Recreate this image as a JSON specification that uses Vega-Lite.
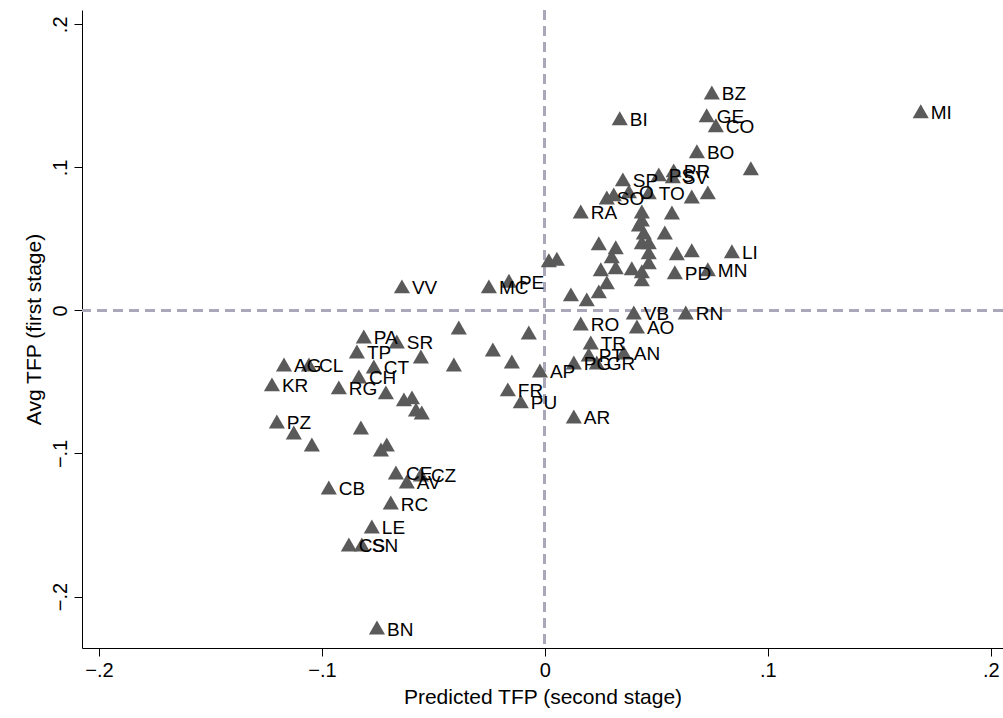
{
  "$schema": "https://vega.github.io/schema/vega-lite/v6.json",
  "width": 921,
  "height": 638,
  "autosize": "none",
  "padding": {"left": 82, "top": 10, "right": 0, "bottom": 70},
  "background": "white",
  "config": {"view": {"stroke": null}, "font": "Liberation Sans"},
  "data": {
    "values": [
      {"x": 0.1686, "y": 0.1392, "l": "MI"},
      {"x": 0.0749, "y": 0.1524, "l": "BZ"},
      {"x": 0.0726, "y": 0.1364, "l": "GE"},
      {"x": 0.0767, "y": 0.1294, "l": "CO"},
      {"x": 0.0336, "y": 0.1343, "l": "BI"},
      {"x": 0.0682, "y": 0.1112, "l": "BO"},
      {"x": 0.0924, "y": 0.0993, "l": ""},
      {"x": 0.0511, "y": 0.0951, "l": "PS"},
      {"x": 0.0578, "y": 0.0979, "l": "PR"},
      {"x": 0.0574, "y": 0.0937, "l": "SV"},
      {"x": 0.035, "y": 0.0916, "l": "SP"},
      {"x": 0.0278, "y": 0.079, "l": "SO"},
      {"x": 0.0309, "y": 0.0811, "l": ""},
      {"x": 0.0377, "y": 0.0832, "l": "O"},
      {"x": 0.0466, "y": 0.0825, "l": "TO"},
      {"x": 0.0659, "y": 0.0797, "l": ""},
      {"x": 0.0731, "y": 0.0825, "l": ""},
      {"x": 0.0161, "y": 0.0692, "l": "RA"},
      {"x": 0.0435, "y": 0.0692, "l": ""},
      {"x": 0.0435, "y": 0.0636, "l": ""},
      {"x": 0.0422, "y": 0.0601, "l": ""},
      {"x": 0.0444, "y": 0.0545, "l": ""},
      {"x": 0.0435, "y": 0.0476, "l": ""},
      {"x": 0.0466, "y": 0.0476, "l": ""},
      {"x": 0.0466, "y": 0.0406, "l": ""},
      {"x": 0.0466, "y": 0.0336, "l": ""},
      {"x": 0.0435, "y": 0.0273, "l": ""},
      {"x": 0.0435, "y": 0.0217, "l": ""},
      {"x": 0.057, "y": 0.0685, "l": ""},
      {"x": 0.0538, "y": 0.0545, "l": ""},
      {"x": 0.0242, "y": 0.0469, "l": ""},
      {"x": 0.0318, "y": 0.0441, "l": ""},
      {"x": 0.03, "y": 0.0378, "l": ""},
      {"x": 0.0318, "y": 0.0301, "l": ""},
      {"x": 0.0251, "y": 0.0287, "l": ""},
      {"x": 0.039, "y": 0.0294, "l": ""},
      {"x": 0.0592, "y": 0.0399, "l": ""},
      {"x": 0.0659, "y": 0.042, "l": ""},
      {"x": 0.0839, "y": 0.0413, "l": "LI"},
      {"x": 0.0583, "y": 0.0266, "l": "PD"},
      {"x": 0.0731, "y": 0.0287, "l": "MN"},
      {"x": 0.0278, "y": 0.0196, "l": ""},
      {"x": 0.0242, "y": 0.0133, "l": ""},
      {"x": 0.0117, "y": 0.0112, "l": ""},
      {"x": 0.0188, "y": 0.0077, "l": ""},
      {"x": 0.0018, "y": 0.0351, "l": ""},
      {"x": 0.0054, "y": 0.0361, "l": ""},
      {"x": -0.0161, "y": 0.0207, "l": "PE"},
      {"x": -0.0251, "y": 0.0168, "l": "MC"},
      {"x": 0.0399, "y": -0.0014, "l": "VB"},
      {"x": 0.0632, "y": -0.0014, "l": "RN"},
      {"x": 0.0161, "y": -0.0091, "l": "RO"},
      {"x": 0.0413, "y": -0.0112, "l": "AO"},
      {"x": -0.0072, "y": -0.0154, "l": ""},
      {"x": -0.0233, "y": -0.0273, "l": ""},
      {"x": -0.0148, "y": -0.0357, "l": ""},
      {"x": 0.0206, "y": -0.0224, "l": "TR"},
      {"x": 0.0197, "y": -0.0308, "l": "PT"},
      {"x": 0.0354, "y": -0.0294, "l": "AN"},
      {"x": 0.013, "y": -0.0364, "l": "PG"},
      {"x": 0.0233, "y": -0.0364, "l": "GR"},
      {"x": -0.0022, "y": -0.042, "l": "AP"},
      {"x": -0.0166, "y": -0.0552, "l": "FR"},
      {"x": -0.0108, "y": -0.0636, "l": "PU"},
      {"x": 0.013, "y": -0.0741, "l": "AR"},
      {"x": -0.0641, "y": 0.0168, "l": "VV"},
      {"x": -0.0386, "y": -0.0119, "l": ""},
      {"x": -0.0408, "y": -0.0378, "l": ""},
      {"x": -0.0812, "y": -0.0182, "l": "PA"},
      {"x": -0.0664, "y": -0.0217, "l": "SR"},
      {"x": -0.0556, "y": -0.0322, "l": ""},
      {"x": -0.0843, "y": -0.0287, "l": "TP"},
      {"x": -0.117, "y": -0.0378, "l": "AG"},
      {"x": -0.1058, "y": -0.0378, "l": "CL"},
      {"x": -0.0767, "y": -0.0392, "l": "CT"},
      {"x": -0.0834, "y": -0.0462, "l": "CH"},
      {"x": -0.1224, "y": -0.0517, "l": "KR"},
      {"x": -0.0924, "y": -0.0538, "l": "RG"},
      {"x": -0.0713, "y": -0.0573, "l": ""},
      {"x": -0.0632, "y": -0.0622, "l": ""},
      {"x": -0.0596, "y": -0.0608, "l": ""},
      {"x": -0.0578, "y": -0.0692, "l": ""},
      {"x": -0.0552, "y": -0.0713, "l": ""},
      {"x": -0.1202, "y": -0.0776, "l": "PZ"},
      {"x": -0.1126, "y": -0.0853, "l": ""},
      {"x": -0.1045, "y": -0.0937, "l": ""},
      {"x": -0.0825, "y": -0.0818, "l": ""},
      {"x": -0.0735, "y": -0.0972, "l": ""},
      {"x": -0.0709, "y": -0.0937, "l": ""},
      {"x": -0.0668, "y": -0.1133, "l": "CE"},
      {"x": -0.0556, "y": -0.1147, "l": "CZ"},
      {"x": -0.0619, "y": -0.1196, "l": "AV"},
      {"x": -0.0969, "y": -0.1238, "l": "CB"},
      {"x": -0.0691, "y": -0.1343, "l": "RC"},
      {"x": -0.0776, "y": -0.151, "l": "LE"},
      {"x": -0.0879, "y": -0.1636, "l": "CS"},
      {"x": -0.0821, "y": -0.1636, "l": "SN"},
      {"x": -0.0753, "y": -0.2217, "l": "BN"}
    ]
  },
  "encoding": {
    "x": {
      "field": "x", "type": "quantitative",
      "scale": {"domain": [-0.2076, 0.2055], "nice": false, "zero": false},
      "axis": {
        "values": [-0.2, -0.1, 0, 0.1, 0.2],
        "labelExpr": "datum.value == 0 ? '0' : replace(format(datum.value, '.1f'), '0.', '.')",
        "title": "Predicted TFP (second stage)", "titleFontSize": 21, "titleFontWeight": "normal",
        "labelFontSize": 20, "labelColor": "black", "titleColor": "black",
        "grid": false, "domainColor": "black", "tickColor": "black", "tickSize": 8,
        "labelPadding": 4, "titlePadding": 6, "labelFlush": false, "labelOverlap": false
      }
    },
    "y": {
      "field": "y", "type": "quantitative",
      "scale": {"domain": [-0.236, 0.21], "nice": false, "zero": false},
      "axis": {
        "values": [-0.2, -0.1, 0, 0.1, 0.2],
        "labelExpr": "datum.value == 0 ? '0' : replace(format(datum.value, '.1f'), '0.', '.')",
        "title": "Avg TFP (first stage)", "titleFontSize": 21, "titleFontWeight": "normal",
        "labelFontSize": 20, "labelAngle": -90, "labelAlign": "center", "labelBaseline": "bottom",
        "labelColor": "black", "titleColor": "black",
        "grid": false, "domainColor": "black", "tickColor": "black", "tickSize": 8,
        "labelPadding": 4, "titlePadding": 6
      }
    }
  },
  "layer": [
    {
      "mark": {"type": "rule", "color": "#a8a8b8", "strokeDash": [10, 6], "strokeWidth": 2},
      "encoding": {"x": {"datum": 0}, "y": null}
    },
    {
      "mark": {"type": "rule", "color": "#a8a8b8", "strokeDash": [10, 6], "strokeWidth": 2},
      "encoding": {"y": {"datum": 0}, "x": null}
    },
    {
      "mark": {"type": "point", "shape": "triangle-up", "filled": true, "color": "#5a5a5a", "opacity": 1, "size": 260}
    },
    {
      "mark": {"type": "text", "align": "left", "baseline": "middle", "dx": 10, "dy": 2, "fontSize": 19, "color": "black"},
      "encoding": {"text": {"field": "l"}}
    }
  ]
}
